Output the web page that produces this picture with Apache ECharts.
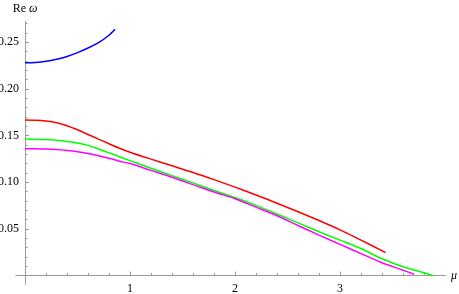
<!DOCTYPE html>
<html>
<head>
<meta charset="utf-8">
<script src="https://cdn.jsdelivr.net/npm/echarts@6/dist/echarts.min.js"></script>
<style>
html,body{margin:0;padding:0;background:#fff;}
#c{width:459px;height:294px;}
</style>
</head>
<body>
<div id="c"></div>
<script>
// ---- data ----
const muBlue = [0, 0.1, 0.2, 0.3, 0.4, 0.5, 0.6, 0.7, 0.8, 0.857];
const reBlue = [0.228, 0.2284, 0.2296, 0.2318, 0.2348, 0.2389, 0.2438, 0.2496, 0.2575, 0.2638];

const muRed = [0, 0.1, 0.2, 0.3, 0.4, 0.5, 0.6, 0.7, 0.8, 0.9, 1.0, 1.2, 1.4, 1.6, 1.8, 2.0, 2.2, 2.4, 2.6, 2.8, 3.0, 3.2, 3.435];
const reRed = [0.1667, 0.1664, 0.1655, 0.1638, 0.1606, 0.1562, 0.1512, 0.1462, 0.1413, 0.1365, 0.1322, 0.1248, 0.1177, 0.1105, 0.1028, 0.0948, 0.0864, 0.0775, 0.0684, 0.0590, 0.0490, 0.0380, 0.0246];

const muGreen = [0, 0.1, 0.2, 0.3, 0.4, 0.5, 0.6, 0.7, 0.8, 0.9, 1.0, 1.2, 1.4, 1.6, 1.8, 2.0, 2.2, 2.4, 2.6, 2.8, 3.0, 3.2, 3.4, 3.6, 3.8, 3.889];
const reGreen = [0.1464, 0.1462, 0.1457, 0.1449, 0.1437, 0.1420, 0.1395, 0.1356, 0.1315, 0.1273, 0.1232, 0.1150, 0.1071, 0.0993, 0.0912, 0.0836, 0.0752, 0.0660, 0.0565, 0.0470, 0.0380, 0.0290, 0.0180, 0.0095, 0.0030, 0.0];

const muMagenta = [0, 0.1, 0.2, 0.3, 0.4, 0.5, 0.6, 0.7, 0.8, 0.9, 1.0, 1.2, 1.4, 1.6, 1.8, 2.0, 2.2, 2.4, 2.6, 2.8, 3.0, 3.2, 3.4, 3.6, 3.705];
const reMagenta = [0.1360, 0.1358, 0.1355, 0.1350, 0.1341, 0.1328, 0.1309, 0.1285, 0.1257, 0.1226, 0.1200, 0.1127, 0.1053, 0.0975, 0.0895, 0.0824, 0.0733, 0.0641, 0.0537, 0.0434, 0.0334, 0.0236, 0.0137, 0.0058, 0.0015];

const xMajorTicks = [1, 2, 3];
const xMinorTicks = [0.2, 0.4, 0.6, 0.8, 1.2, 1.4, 1.6, 1.8, 2.2, 2.4, 2.6, 2.8, 3.2, 3.4, 3.6, 3.8];
const yMajorTicks = [0.05, 0.10, 0.15, 0.20, 0.25];
const yMinorTicks = [0.01, 0.02, 0.03, 0.04, 0.06, 0.07, 0.08, 0.09, 0.11, 0.12, 0.13, 0.14, 0.16, 0.17, 0.18, 0.19, 0.21, 0.22, 0.23, 0.24, 0.26, 0.27];

const xMin = -0.086, xMax = 4.0, yMin = -0.009, yMax = 0.272;

function pairs(xs, ys) { return xs.map((x, i) => [x, ys[i]]); }

const axisColor = '#999999';
const font = 'Liberation Serif';

const chart = echarts.init(document.getElementById('c'), null, {renderer: 'canvas'});
const baseX = {
  type: 'value', min: xMin, max: xMax, position: 'bottom',
  axisLine: {onZero: true, lineStyle: {color: axisColor, width: 1}},
  splitLine: {show: false}
};
const baseY = {
  type: 'value', min: yMin, max: yMax, position: 'left',
  axisLine: {onZero: true, lineStyle: {color: axisColor, width: 1}},
  splitLine: {show: false}
};
const lineSeries = (mu, re, color) => ({
  type: 'line', data: pairs(mu, re), smooth: 0.3, showSymbol: false,
  lineStyle: {color: color, width: 1.5}, xAxisIndex: 0, yAxisIndex: 0
});
chart.setOption({
  animation: false,
  backgroundColor: '#ffffff',
  grid: {left: 16, right: 14, top: 21.7, bottom: 10, containLabel: false, outerBoundsMode: 'none'},
  xAxis: [
    Object.assign({}, baseX, {
      name: 'μ', nameLocation: 'end', nameGap: 6,
      nameTextStyle: {fontFamily: font, fontSize: 12, fontStyle: 'italic', color: '#000'},
      axisTick: {show: true, inside: true, length: 4, customValues: xMajorTicks, lineStyle: {color: axisColor}},
      axisLabel: {show: true, customValues: xMajorTicks, margin: -1, fontFamily: font, fontSize: 12, color: '#000',
        formatter: v => String(Math.round(v))}
    }),
    Object.assign({}, baseX, {
      axisTick: {show: true, inside: true, length: 2.5, customValues: xMinorTicks, lineStyle: {color: axisColor}},
      axisLabel: {show: false}
    })
  ],
  yAxis: [
    Object.assign({}, baseY, {
      name: '{a|Re} {b|ω}', nameLocation: 'end', nameGap: 7,
      nameTextStyle: {fontFamily: font, fontSize: 12, color: '#000',
        rich: {a: {fontFamily: font, fontSize: 12, color: '#000'}, b: {fontFamily: font, fontSize: 12, fontStyle: 'italic', color: '#000'}}},
      axisTick: {show: true, inside: true, length: 4, customValues: yMajorTicks, lineStyle: {color: axisColor}},
      axisLabel: {show: true, customValues: yMajorTicks, margin: -3, fontFamily: font, fontSize: 12, color: '#000',
        formatter: v => v.toFixed(2)}
    }),
    Object.assign({}, baseY, {
      axisTick: {show: true, inside: true, length: 2.5, customValues: yMinorTicks, lineStyle: {color: axisColor}},
      axisLabel: {show: false}
    })
  ],
  series: [
    lineSeries(muBlue, reBlue, '#0000ff'),
    lineSeries(muRed, reRed, '#ff0000'),
    lineSeries(muGreen, reGreen, '#00ff00'),
    lineSeries(muMagenta, reMagenta, '#ff00ff')
  ]
});
</script>
</body>
</html>
